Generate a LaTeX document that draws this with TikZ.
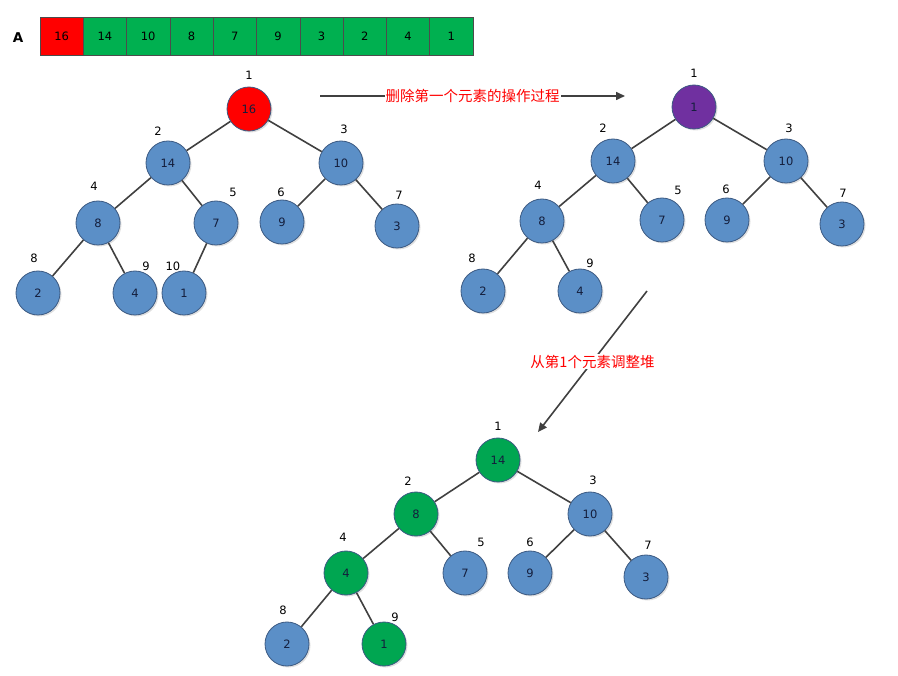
\documentclass[tikz,border=0pt]{standalone}
\usepackage{fontspec}
\setmainfont{DejaVu Sans}
\newfontfamily\cjk{Noto Sans CJK SC}
\usetikzlibrary{shadows,arrows.meta}

\definecolor{heapblue}{RGB}{91,143,199}
\definecolor{heapedge}{RGB}{60,90,130}
\definecolor{heapred}{RGB}{255,0,0}
\definecolor{heapgreen}{RGB}{0,166,81}
\definecolor{heappurple}{RGB}{112,48,160}
\definecolor{cellgreen}{RGB}{0,176,80}
\definecolor{linkgray}{RGB}{64,64,64}
\definecolor{numtext}{RGB}{20,30,60}

\tikzset{
	heapnode/.style={circle, draw=heapedge, line width=0.8pt, fill=heapblue, minimum size=44pt, inner sep=0pt,
		font=\fontsize{11.5}{13}\selectfont, text=numtext,
		drop shadow={shadow xshift=1.5pt, shadow yshift=-1.5pt, opacity=0.25}},
	idx/.style={font=\fontsize{11.5}{13}\selectfont, inner sep=0pt},
	cell/.style={draw=black!70, line width=0.6pt, fill=cellgreen, minimum width=43.3pt, minimum height=38pt,
		inner sep=0pt, font=\fontsize{11.5}{13}\selectfont},
	link/.style={draw=linkgray, line width=1.6pt},
	step arrow/.style={draw=linkgray, line width=1.6pt, -{Triangle[length=9pt,width=8pt]}},
	redlabel/.style={fill=white, text=red, inner sep=1pt, font=\cjk\fontsize{14.5}{16}\selectfont}
}

\begin{document}
\begin{tikzpicture}[x=1pt, y=-1pt]
	\useasboundingbox (0,0) rectangle (898,676);

	% array A
	\node[font=\bfseries\fontsize{13.5}{15}\selectfont] (arrA) at (18,38) {A};
	\foreach \v [count=\i] in {16,14,10,8,7,9,3,2,4,1}
		\node[cell] (a\i) at ({40+43.3*(\i-0.5)},36) {\v};
	\node[cell, fill=heapred] at (a1) {16};

	% first heap
	\foreach \n/\x/\y/\v/\c in {1/249/109/16/heapred, 2/168/163/14/heapblue, 3/341/163/10/heapblue,
			4/98/223/8/heapblue, 5/216/223/7/heapblue, 6/282/222/9/heapblue, 7/397/226/3/heapblue,
			8/38/293/2/heapblue, 9/135/293/4/heapblue, 10/184/293/1/heapblue}
		\node[heapnode, fill=\c] (p\n) at (\x,\y) {\v};
	\foreach \n/\x/\y in {1/249/75, 2/158/131, 3/344/129, 4/94/186, 5/233/192, 6/281/192, 7/399/195,
			8/34/258, 9/146/266, 10/173/266}
		\node[idx] (pl\n) at (\x,\y) {\n};
	\foreach \a/\b in {1/2, 1/3, 2/4, 2/5, 3/6, 3/7, 4/8, 4/9, 5/10}
		\draw[link] (p\a) -- (p\b);

	% second heap
	\foreach \n/\x/\y/\v/\c in {1/694/107/1/heappurple, 2/613/161/14/heapblue, 3/786/161/10/heapblue,
			4/542/221/8/heapblue, 5/662/220/7/heapblue, 6/727/220/9/heapblue, 7/842/224/3/heapblue,
			8/483/291/2/heapblue, 9/580/291/4/heapblue}
		\node[heapnode, fill=\c] (q\n) at (\x,\y) {\v};
	\foreach \n/\x/\y in {1/694/73, 2/603/128, 3/789/128, 4/538/185, 5/678/190, 6/726/189, 7/843/193,
			8/472/258, 9/590/263}
		\node[idx] (ql\n) at (\x,\y) {\n};
	\foreach \a/\b in {1/2, 1/3, 2/4, 2/5, 3/6, 3/7, 4/8, 4/9}
		\draw[link] (q\a) -- (q\b);

	% third heap
	\foreach \n/\x/\y/\v/\c in {1/498/460/14/heapgreen, 2/416/514/8/heapgreen, 3/590/514/10/heapblue,
			4/346/573/4/heapgreen, 5/465/573/7/heapblue, 6/530/573/9/heapblue, 7/646/577/3/heapblue,
			8/287/644/2/heapblue, 9/384/644/1/heapgreen}
		\node[heapnode, fill=\c] (r\n) at (\x,\y) {\v};
	\foreach \n/\x/\y in {1/498/426, 2/408/481, 3/593/480, 4/343/537, 5/481/542, 6/530/542, 7/648/545,
			8/283/610, 9/395/617}
		\node[idx] (rl\n) at (\x,\y) {\n};
	\foreach \a/\b in {1/2, 1/3, 2/4, 2/5, 3/6, 3/7, 4/8, 4/9}
		\draw[link] (r\a) -- (r\b);

	% steps
	\coordinate (s1) at (320,96);
	\coordinate (e1) at (625,96);
	\draw[step arrow] (s1) -- node[redlabel] {删除第一个元素的操作过程} (e1);
	\coordinate (s2) at (647,291);
	\coordinate (e2) at (538,432);
	\draw[step arrow] (s2) -- node[redlabel] {从第1个元素调整堆} (e2);
\end{tikzpicture}
\end{document}
